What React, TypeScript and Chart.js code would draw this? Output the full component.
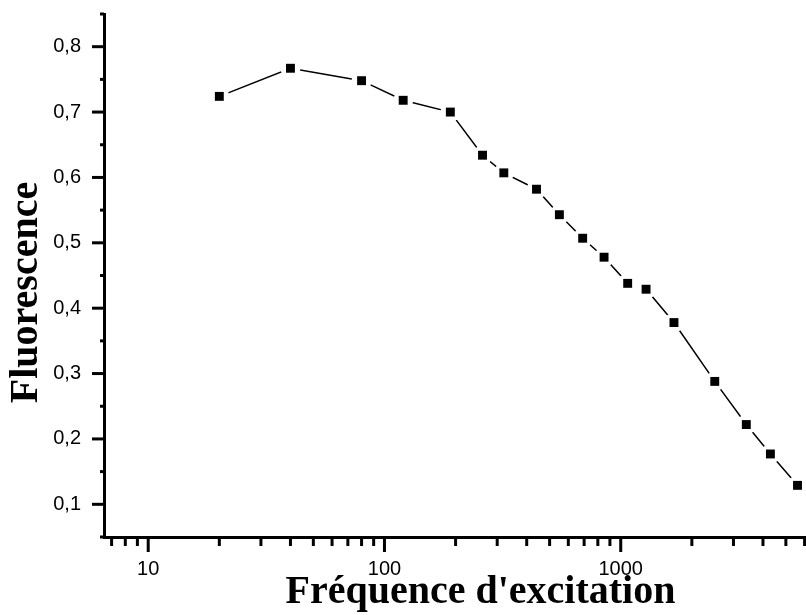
import React, { useEffect, useRef } from 'react';
import { Chart, registerables } from 'chart.js';

Chart.register(...registerables);

// ---- data ----
const frequencies = [20, 40, 80, 120, 190, 260, 320, 440, 550, 690, 850, 1070, 1280, 1680, 2500, 3400, 4300, 5600];
const fluorescence = [0.724, 0.767, 0.748, 0.718, 0.7, 0.634, 0.607, 0.582, 0.543, 0.507, 0.478, 0.438, 0.429, 0.378, 0.288, 0.222, 0.177, 0.129];

// ---- axes ----
const xMajorTicks = [10, 100, 1000];
const xTickLabels = ['10', '100', '1000'];
const xMinorTicks = [7, 8, 9, 20, 30, 40, 50, 60, 70, 80, 90, 200, 300, 400, 500, 600, 700, 800, 900, 2000, 3000, 4000, 5000, 6000, 7000, 8000, 9000];
const yMajorTicks = [0.1, 0.2, 0.3, 0.4, 0.5, 0.6, 0.7, 0.8];
const yTickLabels = ['0,1', '0,2', '0,3', '0,4', '0,5', '0,6', '0,7', '0,8'];
const yMinorTicks = [0.05, 0.15, 0.25, 0.35, 0.45, 0.55, 0.65, 0.75, 0.85];

const xTitle = "Fréquence d'excitation";
const yTitle = 'Fluorescence';

const titleFont = 'bold 40px "Liberation Serif"';

const axisDecor = {
  id: 'axisDecor',
  afterDraw(chart: any) {
    const { ctx, chartArea: a } = chart;
    const xs = chart.scales.x;
    const ys = chart.scales.y;
    ctx.save();
    ctx.strokeStyle = '#000';
    ctx.lineWidth = 3;
    const line = (x1: number, y1: number, x2: number, y2: number) => {
      ctx.beginPath();
      ctx.moveTo(x1, y1);
      ctx.lineTo(x2, y2);
      ctx.stroke();
    };
    xMajorTicks.forEach((v) => {
      const p = xs.getPixelForValue(v);
      line(p, a.bottom, p, a.bottom + 15);
    });
    xMinorTicks.forEach((v) => {
      const p = xs.getPixelForValue(v);
      if (p >= a.left) line(p, a.bottom, p, a.bottom + 9);
    });
    yMajorTicks.forEach((v) => {
      const p = ys.getPixelForValue(v);
      line(a.left, p, a.left - 12, p);
    });
    yMinorTicks.forEach((v) => {
      const p = ys.getPixelForValue(v);
      line(a.left, p, a.left - 4, p);
    });
    // y-axis title (placed slightly below the plot centre, as in the original)
    ctx.fillStyle = '#000';
    ctx.font = titleFont;
    ctx.textAlign = 'center';
    ctx.textBaseline = 'middle';
    ctx.translate(a.left - 77.5, (a.top + a.bottom) / 2 + 17);
    ctx.rotate(-Math.PI / 2);
    ctx.fillText(yTitle, 0, 0);
    ctx.restore();
  },
};

export default function App() {
  const ref = useRef<HTMLCanvasElement | null>(null);

  useEffect(() => {
    if (!ref.current) return;
    const points = frequencies.map((f, i) => ({ x: f, y: fluorescence[i] }));
    const chart = new Chart(ref.current, {
      type: 'line',
      data: {
        datasets: [
          {
            data: points,
            borderColor: '#000',
            borderWidth: 1.5,
            pointRadius: 0,
            fill: false,
            tension: 0,
            order: 3,
          },
          {
            data: points,
            showLine: false,
            pointStyle: 'circle',
            pointRadius: 10,
            pointBackgroundColor: '#fff',
            pointBorderWidth: 0,
            order: 2,
          },
          {
            data: points,
            showLine: false,
            pointStyle: 'rect',
            pointRadius: 6.3,
            pointBackgroundColor: '#000',
            pointBorderWidth: 0,
            order: 1,
          },
        ],
      },
      options: {
        responsive: false,
        animation: false,
        layout: { padding: { left: 0, right: 13, top: 14, bottom: 0 } },
        plugins: { legend: { display: false }, tooltip: { enabled: false } },
        scales: {
          x: {
            type: 'logarithmic',
            min: 6.5,
            max: 10000,
            afterFit: (s: any) => {
              s.height = 78;
              s.paddingLeft = 0;
              s.paddingRight = 0;
            },
            afterBuildTicks: (s: any) => {
              s.ticks = xMajorTicks.map((v) => ({ value: v }));
            },
            grid: { display: false, drawTicks: false },
            border: { display: true, color: '#000', width: 3 },
            ticks: {
              autoSkip: false,
              maxRotation: 0,
              minRotation: 0,
              padding: 20,
              color: '#000',
              font: { family: 'Liberation Sans', size: 20 },
              callback: (v: any) => {
                const i = xMajorTicks.indexOf(Number(v));
                return i >= 0 ? xTickLabels[i] : '';
              },
            },
            title: {
              display: true,
              text: xTitle,
              color: '#000',
              font: { family: 'Liberation Serif', size: 40, weight: 'bold', lineHeight: 1 },
              padding: { top: 0, bottom: 2 },
            },
          },
          y: {
            type: 'linear',
            min: 0.05,
            max: 0.85,
            afterFit: (s: any) => {
              s.width = 104;
              s.paddingTop = 0;
              s.paddingBottom = 0;
            },
            afterBuildTicks: (s: any) => {
              s.ticks = yMajorTicks.map((v) => ({ value: v }));
            },
            grid: { display: false, drawTicks: false },
            border: { display: true, color: '#000', width: 3 },
            ticks: {
              padding: 23,
              color: '#000',
              font: { family: 'Liberation Sans', size: 20 },
              callback: (v: any) => {
                const i = yMajorTicks.findIndex((t) => Math.abs(t - Number(v)) < 1e-9);
                return i >= 0 ? yTickLabels[i] : '';
              },
            },
            title: { display: false, text: yTitle },
          },
        },
      },
      plugins: [axisDecor],
    });
    return () => chart.destroy();
  }, []);

  return (
    <div
      style={{
        position: 'fixed',
        left: 0,
        top: 0,
        width: 806,
        height: 615,
        overflow: 'hidden',
        background: '#fff',
      }}
    >
      <canvas ref={ref} width={870} height={615} style={{ display: 'block' }} />
    </div>
  );
}
